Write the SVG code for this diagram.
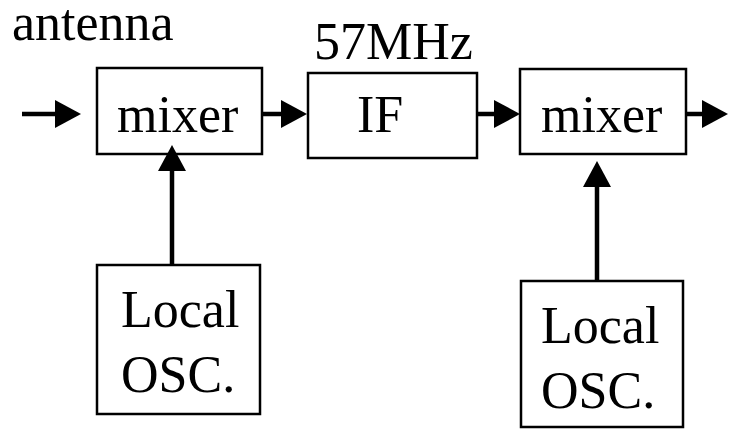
<svg xmlns="http://www.w3.org/2000/svg" width="730" height="430" viewBox="0 0 730 430">
<defs>
<style>
.box{fill:#fff;stroke:#000;stroke-width:2.5}
.t{font-family:"Liberation Serif","Times New Roman",serif;font-size:52px;fill:#000}
.c{stroke:#000;stroke-width:4.5;fill:none}
</style>
<marker id="ah" viewBox="0 0 26 28" refX="16" refY="14" markerWidth="26" markerHeight="28" markerUnits="userSpaceOnUse" orient="auto">
<path d="M0,0 L26,14 L0,28 Z" fill="#000"/>
</marker>
</defs>
<rect width="730" height="430" fill="#fff"/>
<text class="t" x="12" y="40">antenna</text>
<text class="t" x="314" y="59">57MHz</text>
<g id="mixer1">
<rect class="box" x="97" y="68" width="165" height="86"/>
<text class="t" x="117" y="132">mixer</text>
</g>
<g id="if">
<rect class="box" x="308" y="73" width="169" height="85"/>
<text class="t" x="357" y="132">IF</text>
</g>
<g id="mixer2">
<rect class="box" x="520" y="69" width="166" height="85"/>
<text class="t" x="541" y="132">mixer</text>
</g>
<g id="lo1">
<rect class="box" x="97" y="265" width="163" height="149"/>
<text class="t" x="121" y="327">Local</text>
<text class="t" x="121" y="392">OSC.</text>
</g>
<g id="lo2">
<rect class="box" x="521" y="281" width="162" height="146"/>
<text class="t" x="541" y="343">Local</text>
<text class="t" x="541" y="408">OSC.</text>
</g>
<g id="connectors">
<line class="c" x1="22" y1="114" x2="71" y2="114" marker-end="url(#ah)"/>
<line class="c" x1="262" y1="114" x2="297" y2="114" marker-end="url(#ah)"/>
<line class="c" x1="477" y1="114" x2="510" y2="114" marker-end="url(#ah)"/>
<line class="c" x1="686" y1="114" x2="718" y2="114" marker-end="url(#ah)"/>
<line class="c" x1="172" y1="265" x2="172" y2="155" marker-end="url(#ah)"/>
<line class="c" x1="597" y1="281" x2="597" y2="171" marker-end="url(#ah)"/>
</g>
</svg>
